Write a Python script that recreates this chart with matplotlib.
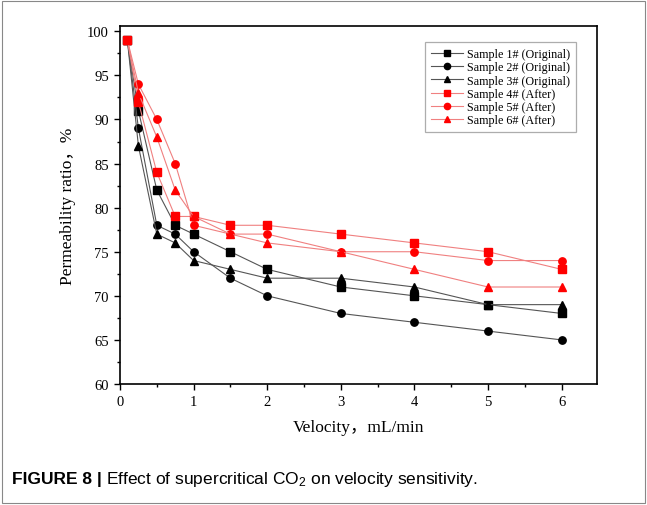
import matplotlib
matplotlib.use("Agg")
import matplotlib.pyplot as plt
from matplotlib.ticker import MultipleLocator
from matplotlib.patches import Rectangle

velocity = [0.1, 0.25, 0.5, 0.75, 1.0, 1.5, 2, 3, 4, 5, 6]
sample1 = [99, 91, 82, 78, 77, 75, 73, 71, 70, 69, 68]
sample2 = [99, 89, 78, 77, 75, 72, 70, 68, 67, 66, 65]
sample3 = [99, 87, 77, 76, 74, 73, 72, 72, 71, 69, 69]
sample4 = [99, 92, 84, 79, 79, 78, 78, 77, 76, 75, 73]
sample5 = [99, 94, 90, 85, 78, 77, 77, 75, 75, 74, 74]
sample6 = [99, 93, 88, 82, 79, 77, 76, 75, 73, 71, 71]
labels = ["Sample 1# (Original)", "Sample 2# (Original)", "Sample 3# (Original)",
          "Sample 4# (After)", "Sample 5# (After)", "Sample 6# (After)"]

serif = ["Liberation Serif", "Noto Sans CJK SC", "DejaVu Serif"]
plt.rcParams['font.family'] = serif
plt.rcParams['mathtext.fontset'] = 'custom'
plt.rcParams['mathtext.rm'] = 'Liberation Sans'
plt.rcParams['mathtext.it'] = 'Liberation Sans:italic'
plt.rcParams['mathtext.bf'] = 'Liberation Sans:bold'

fig = plt.figure(figsize=(6.47, 5.06), dpi=100)
ax = fig.add_axes([120/647, 1-385/506, (597-120)/647, (385-27)/506])

series = [sample1, sample2, sample3, sample4, sample5, sample6]
markers = ['s', 'o', '^', 's', 'o', '^']
for i, (ys, m, lab) in enumerate(zip(series, markers, labels)):
    if i < 3:
        lc, mc = '#555555', 'black'
    else:
        lc, mc = '#f08080', 'red'
    ax.plot(velocity, ys, color=lc, lw=0.8, marker=m, markersize=5.3,
            markerfacecolor=mc, markeredgecolor=mc, label=lab, zorder=3)

ax.set_xlim(0, 6.48)
ax.set_ylim(60, 100.6)
ax.xaxis.set_major_locator(MultipleLocator(1))
ax.xaxis.set_minor_locator(MultipleLocator(0.5))
ax.yaxis.set_major_locator(MultipleLocator(5))
ax.yaxis.set_minor_locator(MultipleLocator(2.5))
ax.tick_params(which='both', direction='out', top=False, right=False, labelsize=10.5, width=1.0)
ax.tick_params(which='major', length=4.5)
ax.tick_params(which='minor', length=2.5)
for s in ax.spines.values():
    s.set_linewidth(1.2)

ax.set_xlabel("Velocity，mL/min", fontsize=12.5, labelpad=8, family=serif)
ax.set_ylabel("Permeability ratio，%", fontsize=12.5, labelpad=8, family=serif)

leg = ax.legend(loc='upper right', bbox_to_anchor=(0.968, 0.972), fontsize=8.7,
                frameon=True, fancybox=False, edgecolor='#999999',
                handlelength=2.6, handletextpad=0.3, labelspacing=0.1,
                borderpad=0.5, markerscale=0.85)
leg.get_frame().set_linewidth(0.9)

t1 = fig.text(12/647, 1-480/506, "FIGURE 8 |", fontsize=12.5, fontweight='bold',
              family=['Liberation Sans', 'DejaVu Sans'], va='center', ha='left')
fig.canvas.draw()
bb = t1.get_window_extent()
x2 = (bb.x1 + 4) / fig.bbox.width
fig.text(x2, 1-480/506, "Effect of supercritical CO$_2$ on velocity sensitivity.",
         fontsize=12.5, family=['Liberation Sans', 'DejaVu Sans'], va='center', ha='left')

fig.patches.append(Rectangle((0.003, 0.003), 0.994, 0.994, transform=fig.transFigure,
                             fill=False, edgecolor='#888888', lw=0.8))

fig.savefig("out.png", dpi=100)
